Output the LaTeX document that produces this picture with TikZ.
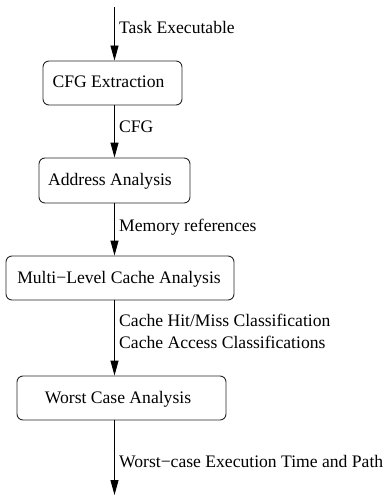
\documentclass[tikz,border=0pt]{standalone}
\usepackage{fontspec}
\setmainfont{Liberation Serif}
\usetikzlibrary{arrows.meta}
\begin{document}
\begin{tikzpicture}[x=1pt,y=1pt,
  box/.style={draw=black!85, line width=0.9pt, rounded corners=6pt, inner sep=0pt},
  flow/.style={line width=0.9pt, -{Triangle[length=15pt,width=8pt]}},
  lbl/.style={anchor=base west, inner sep=0pt, font=\fontsize{17.6}{21}\selectfont},
  btxt/.style={font=\fontsize{17.6}{21}\selectfont}
]
\useasboundingbox (0,0) rectangle (389,-495);
\coordinate (top) at (114.5,-7);
\coordinate (bottom) at (114.5,-495);
\node[box, minimum width=139, minimum height=44] (b1) at (112.5,-83) {};
\node[btxt, anchor=base] (t1) at (108.5,-88) {CFG Extraction};
\node[box, minimum width=151, minimum height=45] (b2) at (114.5,-180.5) {};
\node[btxt, anchor=base] (t2) at (110,-185) {Address Analysis};
\node[box, minimum width=228, minimum height=44] (b3) at (120,-278) {};
\node[btxt, anchor=base] (t3) at (119,-283) {Multi−Level Cache Analysis};
\node[box, minimum width=209, minimum height=44] (b4) at (121.5,-398) {};
\node[btxt, anchor=base] (t4) at (118,-403) {Worst Case Analysis};

\draw[flow] (top) -- (top |- b1.north);
\draw[flow] (top |- b1.south) -- (top |- b2.north);
\draw[flow] (top |- b2.south) -- (top |- b3.north);
\draw[flow] (top |- b3.south) -- (top |- b4.north);
\draw[flow] (top |- b4.south) -- (bottom);

\node[lbl] (l1) at (119,-34) {Task Executable};
\node[lbl] (l2) at (119,-132) {CFG};
\node[lbl] (l3) at (119,-231) {Memory references};
\node[lbl] (l4) at (119,-326) {Cache Hit/Miss Classification};
\node[lbl] (l5) at (119,-348) {Cache Access Classifications};
\node[lbl] (l6) at (119,-467) {Worst−case Execution Time and Path};
\end{tikzpicture}
\end{document}
